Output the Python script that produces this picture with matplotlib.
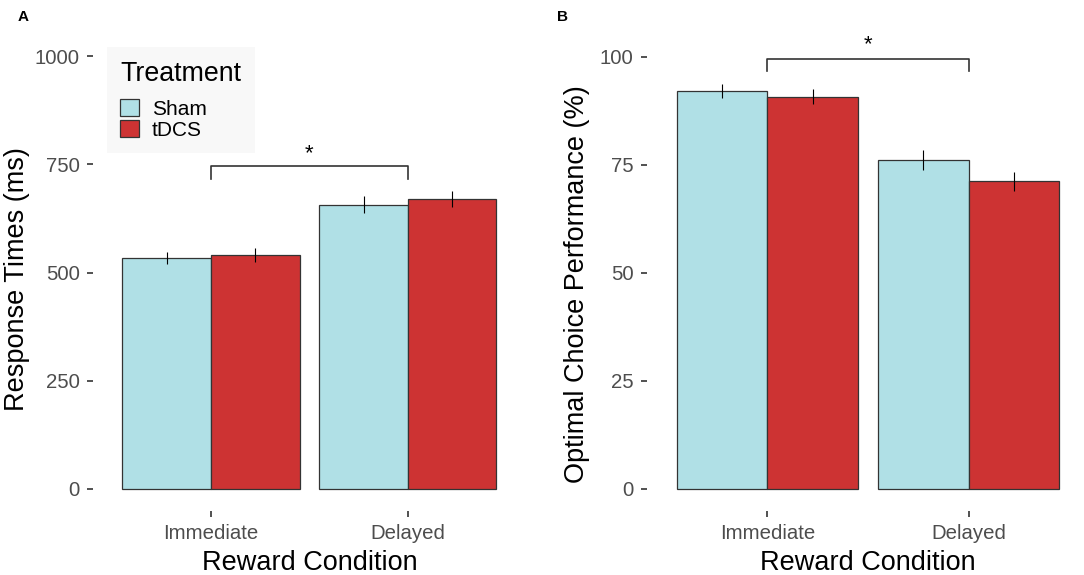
import numpy as np
import matplotlib
matplotlib.use('Agg')
from matplotlib import pyplot as plt
from matplotlib.patches import Patch

plt.rcParams['font.family'] = ['Liberation Sans', 'DejaVu Sans']

conditions = ['Immediate', 'Delayed']
treatments = ['Sham', 'tDCS']
colors = ['#B0E0E6', '#CD3333']

# panel A: response times (ms)
rt_mean = {'Sham': [534, 657], 'tDCS': [540, 670]}
rt_se = {'Sham': [14, 19], 'tDCS': [16, 18]}
rt_ticks = [0, 250, 500, 750, 1000]

# panel B: optimal choice performance (%)
ocp_mean = {'Sham': [92.1, 76.1], 'tDCS': [90.8, 71.2]}
ocp_se = {'Sham': [1.7, 2.3], 'tDCS': [1.7, 2.2]}
ocp_ticks = [0, 25, 50, 75, 100]

W, H = 1084, 575
fig = plt.figure(figsize=(W / 100, H / 100), dpi=100)

def px_axes(x0, x1, y0, y1):
    # pixel box -> figure fraction
    return fig.add_axes([x0 / W, 1 - y1 / H, (x1 - x0) / W, (y1 - y0) / H])

def bar_panel(ax, means, ses, ticks, ylim, xlim, ylabel, xlab_x, ylab_y, ypad):
    x = np.arange(1, len(conditions) + 1)
    bw = 0.45
    for i, t in enumerate(treatments):
        xs = x - bw / 2 + i * bw
        ax.bar(xs, means[t], width=bw, color=colors[i], edgecolor='#333333',
               linewidth=0.9, zorder=2)
        ax.errorbar(xs, means[t], yerr=ses[t], fmt='none', ecolor='black',
                    elinewidth=0.8, capsize=0, zorder=3)
    ax.set_xlim(*xlim)
    ax.set_ylim(*ylim)
    ax.set_xticks(x)
    ax.set_xticklabels(conditions)
    ax.set_yticks(ticks)
    for s in ax.spines.values():
        s.set_visible(False)
    ax.tick_params(axis='both', length=4.5, width=1.2, color='#333333',
                   labelcolor='#4D4D4D', labelsize=14.7, pad=5)
    ax.set_xlabel('Reward Condition', fontsize=19.5, labelpad=5)
    ax.set_ylabel(ylabel, fontsize=19.5, labelpad=ypad)
    ax.xaxis.label.set_x(xlab_x)
    ax.yaxis.label.set_y(ylab_y)

def bracket(ax, x1, x2, ylow, ytop, ystar):
    ax.plot([x1, x1, x2, x2], [ylow, ytop, ytop, ylow], color='#333333',
            linewidth=1.2, zorder=4)
    ax.text((x1 + x2) / 2, ystar, '*', ha='center', va='center', fontsize=16)

axA = px_axes(92.8, 526, 34.4, 510.6)
bar_panel(axA, rt_mean, rt_se, rt_ticks, (-50, 1050), (0.4, 2.6),
          'Response Times (ms)', 0.5, 0.486, 3)
bracket(axA, 1, 2, 717, 747, 774)

axB = px_axes(646.5, 1084, 34.4, 510.6)
bar_panel(axB, ocp_mean, ocp_se, ocp_ticks, (-5.1, 105.2), (0.4, 2.573),
          'Optimal Choice Performance (%)', 0.506, 0.476, 6.6)
bracket(axB, 1, 2, 96.8, 99.6, 102.8)

handles = [Patch(facecolor=c, edgecolor='#333333', linewidth=0.9) for c in colors]
leg = axA.legend(handles, treatments, title='Treatment', loc='upper left',
                 bbox_to_anchor=(106.7 / W, 1 - 47 / H), bbox_transform=fig.transFigure,
                 fontsize=15, title_fontsize=19.3, frameon=True, fancybox=False,
                 borderpad=0.65, handlelength=0.88, handleheight=0.88,
                 handletextpad=0.64, labelspacing=0.05, borderaxespad=0)
leg._legend_box.align = 'left'
leg._legend_box.sep = 9
leg.get_frame().set_facecolor('#F8F8F8')
leg.get_frame().set_edgecolor('none')
leg.get_frame().set_alpha(1)

fig.text(18 / W, 1 - 17 / H, 'A', fontsize=11, fontweight='bold', va='center')
fig.text(557 / W, 1 - 17 / H, 'B', fontsize=11, fontweight='bold', va='center')

fig.savefig('out.png', dpi=100)
